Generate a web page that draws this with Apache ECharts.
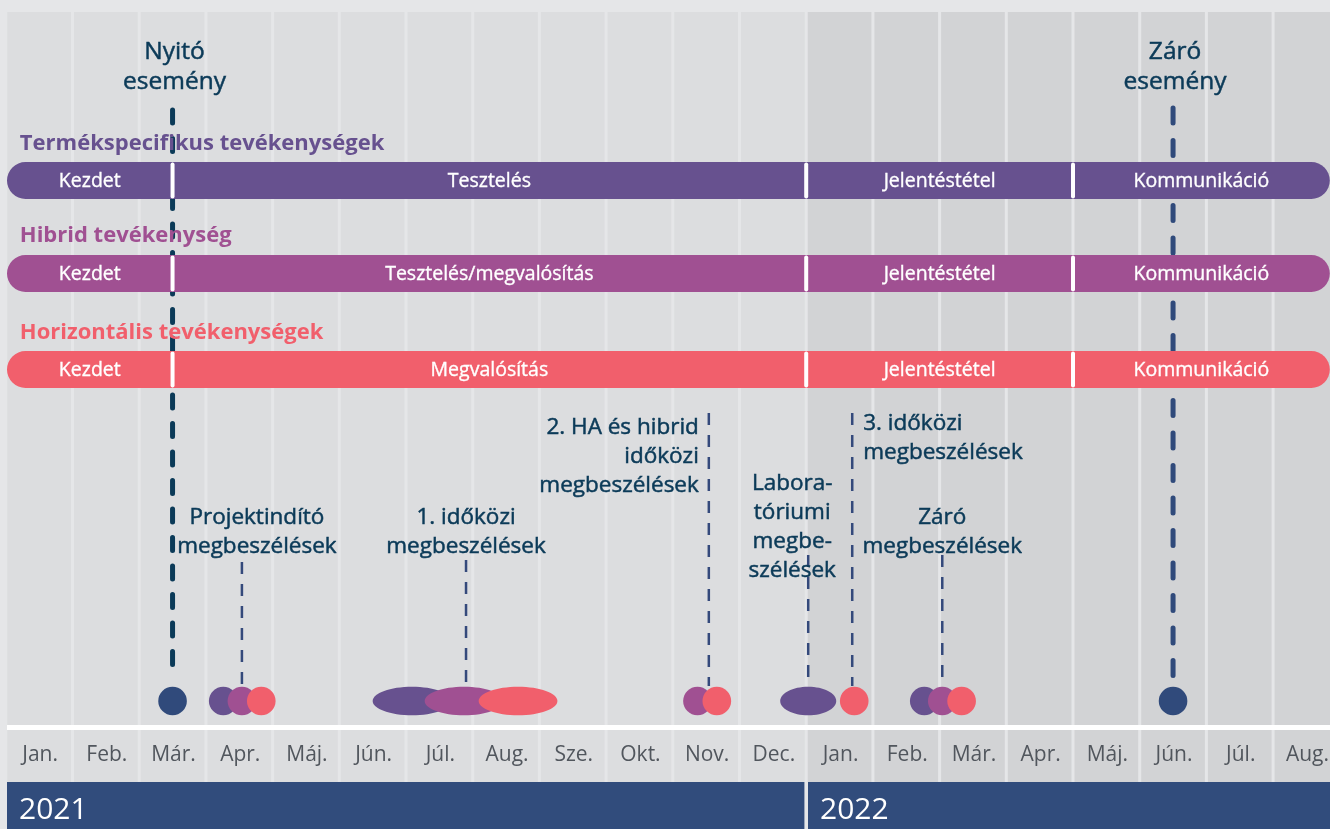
<!DOCTYPE html>
<html><head><meta charset="utf-8">
<script src="https://cdn.jsdelivr.net/npm/echarts@6/dist/echarts.min.js"></script>
<style>html,body{margin:0;padding:0;background:#e5e6e8;}#c{width:1330px;height:829px;}</style>
</head><body><div id="c"></div>
<script>
// ---------------- data ----------------
const monthLabels = ['Jan.','Feb.','Már.','Apr.','Máj.','Jún.','Júl.','Aug.','Sze.','Okt.','Nov.','Dec.',
                     'Jan.','Feb.','Már.','Apr.','Máj.','Jún.','Júl.','Aug.'];
const yearLabels = ['2021','2022'];
const yearStarts = [0, 12];
const yearEnds = [12, 20];
const activityTitles = ['Termékspecifikus tevékenységek','Hibrid tevékenység','Horizontális tevékenységek'];
const phaseBounds = [0, 2.5, 12, 16, 19.85];
const phaseLabels = [
  ['Kezdet','Tesztelés','Jelentéstétel','Kommunikáció'],
  ['Kezdet','Tesztelés/megvalósítás','Jelentéstétel','Kommunikáció'],
  ['Kezdet','Megvalósítás','Jelentéstétel','Kommunikáció']
];
const eventLabels = ['Nyitó\nesemény','Záró\nesemény'];
const eventMonths = [2.5, 17.5];
const meetingLabels = ['Projektindító\nmegbeszélések','1. időközi\nmegbeszélések',
  '2. HA és hibrid\nidőközi\nmegbeszélések','Labora-\ntóriumi\nmegbe-\nszélések',
  '3. időközi\nmegbeszélések','Záró\nmegbeszélések'];
const meetingMonths = [3.54, 6.90, 10.54, 12.03, 12.69, 14.04];
// [meeting, activity, centre month, width in months]
const meetingDots = [
  [0,0,3.26,0.43],[0,1,3.54,0.43],[0,2,3.83,0.43],
  [1,0,6.09,1.18],[1,1,6.87,1.18],[1,2,7.68,1.18],
  [2,1,10.37,0.43],[2,2,10.66,0.43],
  [3,0,12.03,0.84],
  [4,2,12.72,0.43],
  [5,0,13.77,0.43],[5,1,14.04,0.43],[5,2,14.33,0.43]
];

// ---------------- layout / style ----------------
const L = {
  colTop: 12, colBottom: 725, lineBottom: 730, monthBottom: 782, yearBottom: 829,
  monthLabelY: 755, yearLabelY: 810,
  titleY: [144, 236, 332.5], barTop: [162, 255, 351], barH: 37,
  eventLabelY: 67, eventLineTop: [110, 108], eventLineBottom: [680, 690],
  eventDash: [[13, 15.5], [15, 17.5]],
  dotY: 701, dotR: 14.3,
  meetingLineTop: [562, 560, 413, 555, 413, 555], meetingLineBottom: 686,
  meetingLabelY: [532, 532.5, 457, 527.5, 438, 532],
  meetingLabelDx: [15, 0, -10, -16, 11, 0],
  meetingLabelAlign: ['center','center','right','center','left','center']
};
const FONT = '"Open Sans", "Noto Sans", sans-serif';
const actColors = ['#67518f', '#a05092', '#f15f6c'];
const colBg = ['#dcdddf', '#d2d3d5'];
const darkTeal = '#0b3a58';
const navy = '#304a7b';

const chart = echarts.init(document.getElementById('c'), null, {renderer: 'canvas'});

function renderColumns(params, api) {
  const i = api.value(0);
  const yi = i >= 12 ? 1 : 0;
  const x0 = api.coord([i, 0])[0] + 1.5;
  const x1 = api.coord([i + 1, 0])[0] - 1.5;
  const yT = api.coord([0, L.colTop])[1], yB = api.coord([0, L.colBottom])[1];
  const yL = api.coord([0, L.lineBottom])[1], yM = api.coord([0, L.monthBottom])[1];
  const yLab = api.coord([0, L.monthLabelY])[1];
  return {type: 'group', children: [
    {type: 'rect', shape: {x: x0, y: yT, width: x1 - x0, height: yB - yT}, style: {fill: colBg[yi]}},
    {type: 'rect', shape: {x: x0, y: yL, width: x1 - x0, height: yM - yL}, style: {fill: colBg[yi]}},
    {type: 'text', x: (x0 + x1) / 2 + 1, y: yLab, style: {text: monthLabels[i], fill: '#51565d',
      font: '21px ' + FONT, align: 'center', verticalAlign: 'middle'}}
  ]};
}

function renderFrame(params, api) {
  const x0 = api.coord([0, 0])[0] + 1.2;
  const x1 = api.coord([20, 0])[0];
  const y0 = api.coord([0, L.colBottom])[1], y1 = api.coord([0, L.lineBottom])[1];
  return {type: 'rect', shape: {x: x0, y: y0, width: x1 - x0, height: y1 - y0}, style: {fill: '#ffffff'}};
}

function renderYears(params, api) {
  const i = params.dataIndex;
  const x0 = api.coord([yearStarts[i], 0])[0] + (i === 0 ? 1.2 : 1.8);
  const x1 = api.coord([yearEnds[i], 0])[0] - 1.8;
  const y0 = api.coord([0, L.monthBottom])[1], y1 = api.coord([0, L.yearBottom])[1];
  const yl = api.coord([0, L.yearLabelY])[1];
  return {type: 'group', children: [
    {type: 'rect', shape: {x: x0, y: y0, width: x1 - x0, height: y1 - y0}, style: {fill: '#314c7c'}},
    {type: 'text', x: x0 + 12, y: yl, style: {text: yearLabels[i], fill: '#ffffff',
      font: '30px ' + FONT, align: 'left', verticalAlign: 'middle'}}
  ]};
}

function renderEvents(params, api) {
  const i = params.dataIndex;
  const x = api.coord([eventMonths[i], 0])[0];
  const yT = api.coord([0, L.eventLineTop[i]])[1], yB = api.coord([0, L.eventLineBottom[i]])[1];
  const yD = api.coord([0, L.dotY])[1], yl = api.coord([0, L.eventLabelY])[1];
  return {type: 'group', children: [
    {type: 'line', shape: {x1: x, y1: yT, x2: x, y2: yB},
      style: {stroke: i === 0 ? darkTeal : navy, lineWidth: 5, lineDash: L.eventDash[i], lineCap: 'round'}},
    {type: 'circle', shape: {cx: x, cy: yD, r: L.dotR}, style: {fill: navy}},
    {type: 'text', x: x + 2, y: yl, style: {text: eventLabels[i], fill: darkTeal, font: '24.5px ' + FONT,
      stroke: darkTeal, lineWidth: 0.5,
      lineHeight: 30, align: 'center', verticalAlign: 'middle'}}
  ]};
}

const barData = [];
phaseLabels.forEach((row, r) => row.forEach((lab, p) => barData.push([r, p])));

function renderBars(params, api) {
  const r = api.value(0), p = api.value(1);
  const last = phaseLabels[r].length - 1;
  let x0 = api.coord([phaseBounds[p], 0])[0];
  const x1 = api.coord([phaseBounds[p + 1], 0])[0];
  if (p === 0) x0 += 1.2;
  const y0 = api.coord([0, L.barTop[r]])[1], y1 = api.coord([0, L.barTop[r] + L.barH])[1];
  const h = y1 - y0, rad = h / 2;
  const rr = [p === 0 ? rad : 0, p === last ? rad : 0, p === last ? rad : 0, p === 0 ? rad : 0];
  const children = [
    {type: 'rect', shape: {x: x0, y: y0, width: x1 - x0, height: h, r: rr}, style: {fill: actColors[r]}},
    {type: 'text', x: (x0 + x1) / 2, y: (y0 + y1) / 2 + 1, style: {text: phaseLabels[r][p], fill: '#ffffff',
      stroke: '#ffffff', lineWidth: 0.35,
      font: '19.5px ' + FONT, align: 'center', verticalAlign: 'middle'}}
  ];
  if (p > 0) children.push({type: 'rect', z2: 5, shape: {x: x0 - 2, y: y0 + 0.5, width: 4, height: h - 1, r: 2},
    style: {fill: '#ffffff'}});
  return {type: 'group', children};
}

function renderTitles(params, api) {
  const i = params.dataIndex;
  const x = api.coord([0, 0])[0] + 14;
  const y = api.coord([0, L.titleY[i]])[1];
  return {type: 'text', x, y, style: {text: activityTitles[i], fill: actColors[i],
    font: 'bold 22px ' + FONT, align: 'left', verticalAlign: 'middle'}};
}

function renderMeetingLines(params, api) {
  const i = params.dataIndex;
  const x = api.coord([meetingMonths[i], 0])[0];
  const yT = api.coord([0, L.meetingLineTop[i]])[1], yB = api.coord([0, L.meetingLineBottom])[1];
  return {type: 'line', shape: {x1: x, y1: yT, x2: x, y2: yB},
    style: {stroke: '#34497b', lineWidth: 2.5, lineDash: [12, 10]}};
}

function renderDots(params, api) {
  const d = meetingDots[params.dataIndex];
  const xc = api.coord([d[2], 0])[0];
  const xl = api.coord([d[2] - d[3] / 2, 0])[0];
  const yc = api.coord([0, L.dotY])[1];
  return {type: 'ellipse', shape: {cx: xc, cy: yc, rx: xc - xl, ry: L.dotR}, style: {fill: actColors[d[1]]}};
}

function renderMeetingLabels(params, api) {
  const i = params.dataIndex;
  const x = api.coord([meetingMonths[i], 0])[0] + L.meetingLabelDx[i];
  const y = api.coord([0, L.meetingLabelY[i]])[1];
  return {type: 'text', x, y, style: {text: meetingLabels[i], fill: darkTeal, font: '22.5px ' + FONT,
    stroke: darkTeal, lineWidth: 0.5,
    lineHeight: 29, align: L.meetingLabelAlign[i], verticalAlign: 'middle'}};
}

const idx = arr => arr.map((_, i) => [i]);

chart.setOption({
  backgroundColor: '#e5e6e8',
  animation: false,
  grid: {left: 0, right: 0, top: 0, bottom: 0},
  xAxis: {type: 'value', min: -0.087, max: 19.853, show: false},
  yAxis: {type: 'value', min: 0, max: 829, inverse: true, show: false},
  series: [
    {type: 'custom', z: 1, renderItem: renderColumns, data: idx(monthLabels)},
    {type: 'custom', z: 1, renderItem: renderFrame, data: [[0]]},
    {type: 'custom', z: 1, renderItem: renderYears, data: idx(yearLabels)},
    {type: 'custom', z: 2, renderItem: renderEvents, data: idx(eventLabels)},
    {type: 'custom', z: 3, renderItem: renderBars, data: barData},
    {type: 'custom', z: 4, renderItem: renderTitles, data: idx(activityTitles)},
    {type: 'custom', z: 5, renderItem: renderMeetingLines, data: idx(meetingLabels)},
    {type: 'custom', z: 6, renderItem: renderDots, data: idx(meetingDots)},
    {type: 'custom', z: 7, renderItem: renderMeetingLabels, data: idx(meetingLabels)}
  ]
});
</script></body></html>
